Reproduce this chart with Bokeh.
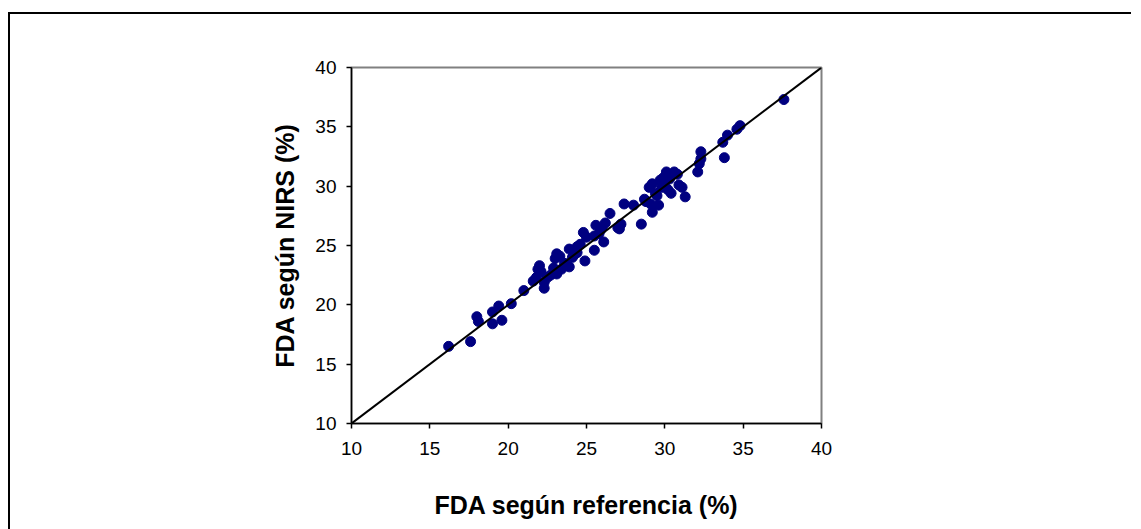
from bokeh.plotting import figure
from bokeh.models import Range1d, FixedTicker
from bokeh.embed import file_html
from bokeh.resources import INLINE

# FDA determined by the reference method vs. predicted by NIRS (%)
fda_referencia = [
    16.2, 17.6, 18.0, 18.1, 19.0, 19.0, 19.4, 19.6, 20.2, 21.0,
    21.6, 21.8, 21.9, 22.0, 22.1, 22.3, 22.3, 22.5, 22.7, 22.9,
    23.0, 23.1, 23.1, 23.3, 23.4, 23.6, 23.9, 23.9, 24.1, 24.2,
    24.4, 24.4, 24.6, 24.9, 24.8, 25.0, 25.5, 25.5, 25.6, 25.8,
    25.9, 26.0, 26.1, 26.2, 26.5, 27.0, 27.1, 27.2, 27.4, 28.0,
    28.5, 28.7, 28.8, 29.0, 29.1, 29.2, 29.2, 29.4, 29.5, 29.6,
    29.7, 29.8, 29.9, 30.0, 30.1, 30.2, 30.3, 30.4, 30.6, 30.8,
    30.9, 31.1, 31.3, 32.1, 32.2, 32.3, 32.3, 33.8, 33.7, 34.0,
    34.6, 34.8, 37.6,
]
fda_nirs = [
    16.5, 16.9, 19.0, 18.6, 18.4, 19.4, 19.9, 18.7, 20.1, 21.2,
    22.0, 22.3, 23.0, 23.3, 22.8, 21.4, 21.9, 22.3, 22.5, 23.1,
    23.9, 24.3, 22.6, 24.1, 23.0, 23.5, 23.2, 24.7, 24.0, 24.2,
    24.4, 24.9, 25.1, 23.7, 26.1, 25.7, 24.6, 25.8, 26.7, 26.0,
    26.3, 26.5, 25.3, 26.9, 27.7, 26.5, 26.4, 26.8, 28.5, 28.4,
    26.8, 28.9, 28.7, 29.9, 28.5, 27.8, 30.2, 29.4, 29.2, 28.4,
    30.5, 29.9, 30.7, 30.3, 31.2, 29.7, 30.6, 29.4, 31.2, 31.0,
    30.1, 29.9, 29.1, 31.2, 31.9, 32.3, 32.9, 32.4, 33.7, 34.3,
    34.8, 35.1, 37.3,
]

# identity line y = x
linea_x = [10, 40]
linea_y = [10, 40]

ticks = [10, 15, 20, 25, 30, 35, 40]

FONT = "Liberation Sans"

# the canvas is offset by 8px / 12px and carries the chart-area border
p = figure(
    width=1133, height=517,
    frame_width=470, frame_height=356,
    x_range=Range1d(10, 40), y_range=Range1d(10, 40),
    output_backend="svg", toolbar_location=None,
    min_border_left=341, min_border_top=53,
    min_border_right=310, min_border_bottom=106,
    background_fill_color="white", border_fill_color="white",
    styles={
        "margin-left": "8px", "margin-top": "12px",
        "border-left": "2px solid black", "border-top": "2px solid black",
    },
)
p.grid.visible = False
p.outline_line_color = "#808080"
p.outline_line_width = 2

for ax in (p.xaxis[0], p.yaxis[0]):
    ax.ticker = FixedTicker(ticks=ticks)
    ax.axis_line_color = "black"
    ax.axis_line_width = 1.5
    ax.major_tick_line_color = "black"
    ax.major_tick_line_width = 1.5
    ax.major_tick_out = 5
    ax.major_tick_in = 0
    ax.minor_tick_line_color = None
    ax.major_label_text_font = FONT
    ax.major_label_text_font_size = "19px"
    ax.major_label_text_color = "black"
    ax.axis_label_text_font = FONT
    ax.axis_label_text_font_style = "bold"
    ax.axis_label_text_font_size = "25px"
    ax.axis_label_text_color = "black"

p.xaxis.axis_label = "FDA según referencia (%)"
p.xaxis.major_label_standoff = 13
p.xaxis.axis_label_standoff = 33
p.yaxis.axis_label = "FDA según NIRS (%)"
p.yaxis.major_label_standoff = 10
p.yaxis.axis_label_standoff = 13

p.scatter(fda_referencia, fda_nirs, size=10, color="#000080", line_color="#000080")
p.line(linea_x, linea_y, line_color="black", line_width=2)

open("out.html", "w").write(file_html(p, INLINE))
